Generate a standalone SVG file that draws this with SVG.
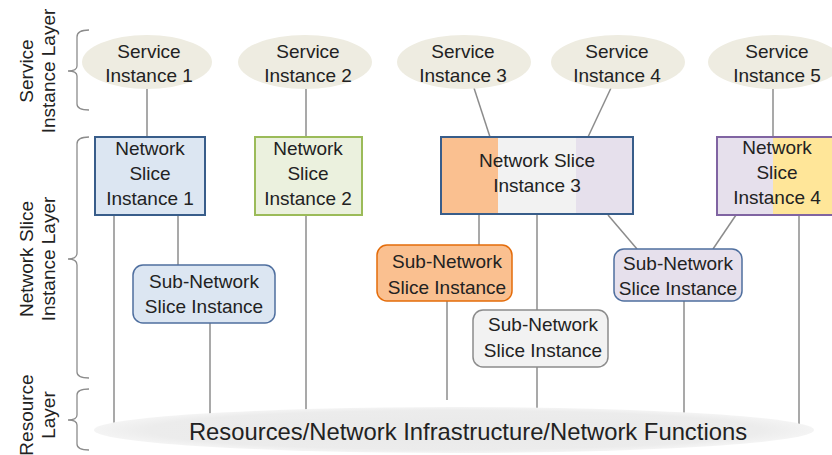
<svg xmlns="http://www.w3.org/2000/svg" width="832" height="455" viewBox="0 0 832 455">
<defs>
<style>
text{font-family:"Liberation Sans",Arial,sans-serif;font-size:19px;fill:#222222;text-anchor:middle}
.si{fill:#eeece1;stroke:none}
.ln{stroke:#8c8c8c;stroke-width:1.5;fill:none}
.br{stroke:#8c8c8c;stroke-width:1.3;fill:none}
.big{font-size:23.8px}
</style>
<radialGradient id="rg" cx="0.5" cy="0.5" r="0.5">
<stop offset="0" stop-color="#e9e9e9"/>
<stop offset="0.85" stop-color="#ececec"/>
<stop offset="1" stop-color="#f4f4f4"/>
</radialGradient>
</defs>
<rect width="832" height="455" fill="#ffffff"/>

<g id="layer-labels">
<path class="br" d="M89,30 Q77,30 77,37 L77,66 Q77,71 68,71 Q77,71 77,76 L77,104 Q77,110 89,110"/>
<text transform="translate(33,71) rotate(-90)">Service</text>
<text transform="translate(55,71) rotate(-90)">Instance Layer</text>
<path class="br" d="M89,137 Q77,137 77,144 L77,253 Q77,259 68,259 Q77,259 77,265 L77,372 Q77,378 89,378"/>
<text transform="translate(33,259) rotate(-90)">Network Slice</text>
<text transform="translate(55,259) rotate(-90)">Instance Layer</text>
<path class="br" d="M89,389 Q77,389 77,395 L77,415 Q77,420 68,420 Q77,420 77,425 L77,444 Q77,450 89,450"/>
<text transform="translate(33,415) rotate(-90)">Resource</text>
<text transform="translate(55,415) rotate(-90)">Layer</text>
</g>

<g id="connectors">
<line class="ln" x1="147" y1="89" x2="147" y2="137"/>
<line class="ln" x1="306" y1="89" x2="306" y2="137"/>
<line class="ln" x1="474" y1="88" x2="490" y2="137"/>
<line class="ln" x1="611" y1="88" x2="588" y2="137"/>
<line class="ln" x1="773" y1="89" x2="773" y2="137"/>
<line class="ln" x1="114" y1="215" x2="114" y2="430"/>
<line class="ln" x1="178" y1="215" x2="178" y2="265"/>
<line class="ln" x1="210" y1="323" x2="210" y2="430"/>
<line class="ln" x1="306" y1="215" x2="306" y2="430"/>
<line class="ln" x1="479" y1="214" x2="479" y2="245"/>
<line class="ln" x1="447" y1="301" x2="447" y2="400"/>
<line class="ln" x1="537" y1="214" x2="537" y2="310"/>
<line class="ln" x1="537" y1="367" x2="537" y2="430"/>
<line class="ln" x1="608" y1="215" x2="637" y2="249"/>
<line class="ln" x1="736" y1="215" x2="713" y2="249"/>
<line class="ln" x1="684" y1="301" x2="684" y2="430"/>
<line class="ln" x1="799" y1="215" x2="799" y2="430"/>
</g>

<g id="resources">
<ellipse cx="454" cy="430" rx="360" ry="23" fill="url(#rg)"/>
<text class="big" x="468" y="440">Resources/Network Infrastructure/Network Functions</text>
</g>

<g id="service-instance-1">
<ellipse class="si" cx="147" cy="62" rx="65" ry="27"/>
<text x="149" y="58">Service</text><text x="149" y="82">Instance 1</text>
</g>
<g id="service-instance-2">
<ellipse class="si" cx="305" cy="62" rx="67" ry="27"/>
<text x="308" y="58">Service</text><text x="308" y="82">Instance 2</text>
</g>
<g id="service-instance-3">
<ellipse class="si" cx="464" cy="62" rx="67" ry="27"/>
<text x="463" y="58">Service</text><text x="463" y="82">Instance 3</text>
</g>
<g id="service-instance-4">
<ellipse class="si" cx="618" cy="62" rx="67" ry="27"/>
<text x="617" y="58">Service</text><text x="617" y="82">Instance 4</text>
</g>
<g id="service-instance-5">
<ellipse class="si" cx="775" cy="62" rx="67" ry="27"/>
<text x="777" y="58">Service</text><text x="777" y="82">Instance 5</text>
</g>

<g id="nsi-1">
<rect x="95" y="137" width="110" height="78" fill="#dce6f2" stroke="#385d8a" stroke-width="2"/>
<text x="150" y="155">Network</text><text x="150" y="180">Slice</text><text x="150" y="205">Instance 1</text>
</g>
<g id="nsi-2">
<rect x="255" y="137" width="107" height="78" fill="#ebf1de" stroke="#9bbb59" stroke-width="2"/>
<text x="308" y="155">Network</text><text x="308" y="180">Slice</text><text x="308" y="205">Instance 2</text>
</g>
<g id="nsi-3">
<rect x="441" y="137" width="57" height="77" fill="#fac090"/>
<rect x="498" y="137" width="78" height="77" fill="#f2f2f2"/>
<rect x="576" y="137" width="57" height="77" fill="#e6e0ec"/>
<rect x="441" y="137" width="192" height="77" fill="none" stroke="#385d8a" stroke-width="2"/>
<text x="537" y="167">Network Slice</text><text x="537" y="192">Instance 3</text>
</g>
<g id="nsi-4">
<rect x="717" y="137" width="56" height="78" fill="#e6e0ec"/>
<rect x="773" y="137" width="70" height="78" fill="#ffe699"/>
<rect x="717" y="137" width="130" height="78" fill="none" stroke="#8064a2" stroke-width="2"/>
<text x="777" y="154">Network</text><text x="777" y="179">Slice</text><text x="777" y="204">Instance 4</text>
</g>

<g id="subnsi-blue">
<rect x="133" y="265" width="142" height="58" rx="10" fill="#dce6f2" stroke="#4f6f9f" stroke-width="1.5"/>
<text x="204" y="288">Sub-Network</text><text x="204" y="313">Slice Instance</text>
</g>
<g id="subnsi-orange">
<rect x="377" y="245" width="135" height="56" rx="10" fill="#fac090" stroke="#e46c0a" stroke-width="1.5"/>
<text x="447" y="268">Sub-Network</text><text x="447" y="294">Slice Instance</text>
</g>
<g id="subnsi-gray">
<rect x="473" y="310" width="135" height="57" rx="10" fill="#f2f2f2" stroke="#8c8c8c" stroke-width="1.5"/>
<text x="543" y="331">Sub-Network</text><text x="543" y="357">Slice Instance</text>
</g>
<g id="subnsi-lavender">
<rect x="614" y="249" width="128" height="52" rx="10" fill="#e6e0ec" stroke="#4f6f9f" stroke-width="1.5"/>
<text x="678" y="270">Sub-Network</text><text x="678" y="295">Slice Instance</text>
</g>
</svg>
